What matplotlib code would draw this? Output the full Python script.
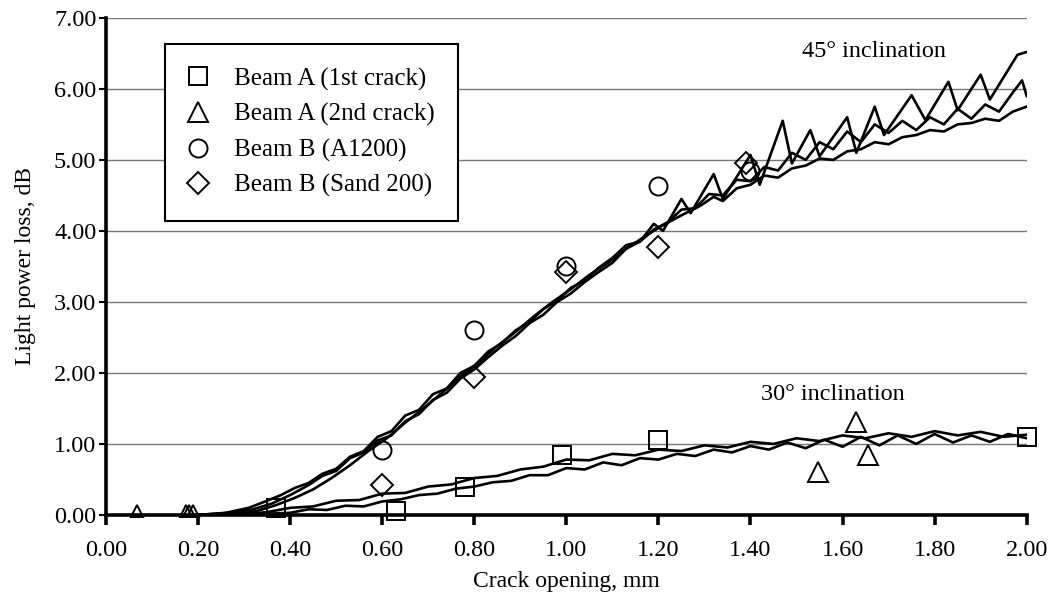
import matplotlib
matplotlib.use("Agg")
import matplotlib.pyplot as plt

plt.rcParams['font.family'] = ['Liberation Serif', 'DejaVu Serif']

# marker data
sq_x = [0.37, 0.63, 0.78, 0.99, 1.20, 2.00]
sq_y = [0.10, 0.05, 0.40, 0.85, 1.06, 1.10]
tri_x = [0.067, 0.173, 0.181, 0.189, 1.546, 1.630, 1.655]
tri_y = [0.05, 0.05, 0.05, 0.05, 0.61, 1.31, 0.85]
cir_x = [0.60, 0.80, 1.00, 1.20, 1.40]
cir_y = [0.92, 2.60, 3.50, 4.63, 4.85]
dia_x = [0.60, 0.80, 1.00, 1.20, 1.39]
dia_y = [0.42, 1.94, 3.42, 3.78, 4.95]

# 45 deg inclination curves
c45a_x = [0.20, 0.26, 0.31, 0.35, 0.38, 0.41, 0.44, 0.47, 0.50, 0.53, 0.56, 0.59, 0.62, 0.65,
          0.68, 0.71, 0.74, 0.77, 0.80, 0.83, 0.86, 0.89, 0.92, 0.95, 0.98, 1.01, 1.04, 1.07,
          1.10, 1.13, 1.16, 1.19, 1.21, 1.25, 1.27, 1.32, 1.34, 1.40, 1.42, 1.47, 1.49, 1.53,
          1.55, 1.61, 1.63, 1.67, 1.69, 1.75, 1.78, 1.83, 1.85, 1.90, 1.92, 1.98, 2.00]
c45a_y = [0.00, 0.03, 0.10, 0.20, 0.28, 0.38, 0.45, 0.58, 0.65, 0.82, 0.90, 1.10, 1.18, 1.40,
          1.48, 1.70, 1.78, 2.00, 2.10, 2.30, 2.42, 2.60, 2.72, 2.90, 3.02, 3.20, 3.30, 3.48,
          3.62, 3.80, 3.85, 4.10, 4.00, 4.45, 4.25, 4.80, 4.45, 5.07, 4.65, 5.55, 4.95, 5.42,
          5.05, 5.60, 5.10, 5.75, 5.35, 5.91, 5.56, 6.10, 5.70, 6.20, 5.85, 6.48, 6.52]
c45b_x = [0.20, 0.27, 0.32, 0.36, 0.40, 0.44, 0.47, 0.50, 0.53, 0.56, 0.59, 0.62, 0.65, 0.68,
          0.71, 0.74, 0.77, 0.80, 0.83, 0.86, 0.89, 0.92, 0.95, 0.98, 1.01, 1.04, 1.07, 1.10,
          1.13, 1.16, 1.19, 1.22, 1.25, 1.28, 1.31, 1.34, 1.37, 1.40, 1.43, 1.46, 1.49, 1.52,
          1.55, 1.58, 1.61, 1.64, 1.67, 1.70, 1.73, 1.76, 1.79, 1.82, 1.85, 1.88, 1.91, 1.94,
          1.97, 1.99, 2.00]
c45b_y = [0.00, 0.03, 0.08, 0.16, 0.28, 0.42, 0.55, 0.62, 0.80, 0.88, 1.05, 1.12, 1.32, 1.42,
          1.62, 1.72, 1.92, 2.05, 2.22, 2.38, 2.52, 2.70, 2.82, 3.00, 3.12, 3.28, 3.42, 3.55,
          3.75, 3.85, 4.02, 4.12, 4.30, 4.32, 4.52, 4.50, 4.72, 4.70, 4.90, 4.85, 5.10, 5.00,
          5.25, 5.15, 5.40, 5.25, 5.50, 5.38, 5.55, 5.42, 5.60, 5.50, 5.72, 5.58, 5.78, 5.68,
          5.95, 6.12, 5.90]
c45c_x = [0.20, 0.28, 0.33, 0.37, 0.41, 0.45, 0.49, 0.53, 0.57, 0.61, 0.65, 0.69, 0.73, 0.77,
          0.81, 0.85, 0.89, 0.93, 0.97, 1.01, 1.05, 1.09, 1.13, 1.17, 1.21, 1.25, 1.29, 1.32,
          1.34, 1.37, 1.40, 1.43, 1.46, 1.49, 1.52, 1.55, 1.58, 1.61, 1.64, 1.67, 1.70, 1.73,
          1.76, 1.79, 1.82, 1.85, 1.88, 1.91, 1.94, 1.97, 2.00]
c45c_y = [0.00, 0.02, 0.06, 0.14, 0.24, 0.36, 0.52, 0.70, 0.90, 1.08, 1.30, 1.50, 1.72, 1.95,
          2.15, 2.38, 2.58, 2.80, 3.00, 3.18, 3.38, 3.55, 3.75, 3.92, 4.08, 4.22, 4.35, 4.48,
          4.42, 4.60, 4.65, 4.78, 4.75, 4.88, 4.92, 5.02, 5.00, 5.12, 5.15, 5.25, 5.22, 5.32,
          5.35, 5.42, 5.40, 5.50, 5.52, 5.58, 5.55, 5.68, 5.75]

# 30 deg inclination curves
c30a_x = [0.28, 0.35, 0.40, 0.45, 0.50, 0.55, 0.60, 0.65, 0.70, 0.75, 0.80, 0.85, 0.90, 0.95,
          1.00, 1.05, 1.10, 1.15, 1.20, 1.25, 1.30, 1.35, 1.40, 1.45, 1.50, 1.55, 1.60, 1.65,
          1.70, 1.75, 1.80, 1.85, 1.90, 1.95, 2.00]
c30a_y = [0.00, 0.04, 0.10, 0.12, 0.20, 0.21, 0.30, 0.31, 0.40, 0.43, 0.52, 0.55, 0.64, 0.68,
          0.78, 0.77, 0.86, 0.84, 0.92, 0.90, 0.98, 0.95, 1.03, 1.00, 1.08, 1.04, 1.12, 1.08,
          1.15, 1.10, 1.18, 1.12, 1.17, 1.10, 1.13]
c30b_x = [0.30, 0.36, 0.40, 0.44, 0.48, 0.52, 0.56, 0.60, 0.64, 0.68, 0.72, 0.76, 0.80, 0.84,
          0.88, 0.92, 0.96, 1.00, 1.04, 1.08, 1.12, 1.16, 1.20, 1.24, 1.28, 1.32, 1.36, 1.40,
          1.44, 1.48, 1.52, 1.56, 1.60, 1.64, 1.68, 1.72, 1.76, 1.80, 1.84, 1.88, 1.92, 1.96,
          2.00]
c30b_y = [0.00, 0.02, 0.03, 0.08, 0.07, 0.13, 0.12, 0.19, 0.22, 0.28, 0.30, 0.37, 0.40, 0.46,
          0.48, 0.56, 0.56, 0.66, 0.64, 0.74, 0.70, 0.80, 0.78, 0.86, 0.83, 0.92, 0.88, 0.97,
          0.92, 1.02, 0.94, 1.06, 0.96, 1.10, 0.98, 1.12, 1.00, 1.14, 1.02, 1.12, 1.03, 1.14,
          1.08]

fig = plt.figure(figsize=(10.53, 5.96), dpi=100)
ax = fig.add_axes([0.1007, 0.136, 0.8743, 0.834])

for cx, cy in [(c45a_x, c45a_y), (c45b_x, c45b_y), (c45c_x, c45c_y),
               (c30a_x, c30a_y), (c30b_x, c30b_y)]:
    ax.plot(cx, cy, color='black', lw=1.9, zorder=3)

mk = dict(linestyle='none', markerfacecolor='none', markeredgecolor='black',
          markeredgewidth=1.4, clip_on=False, zorder=4)
ax.plot(sq_x, sq_y, marker='s', markersize=13, label='Beam A (1st crack)', **mk)
# the first four triangles are drawn smaller in the original
ax.plot(tri_x[:4], tri_y[:4], marker='^', markersize=8, **mk)
ax.plot(tri_x[4:], tri_y[4:], marker='^', markersize=14, label='Beam A (2nd crack)', **mk)
ax.plot(cir_x, cir_y, marker='o', markersize=13, label='Beam B (A1200)', **mk)
ax.plot(dia_x, dia_y, marker='D', markersize=11, label='Beam B (Sand 200)', **mk)

ax.set_xlim(0, 2.0)
ax.set_ylim(0, 7.0)
ax.set_xticks([i * 0.2 for i in range(11)])
ax.set_yticks(range(8))
ax.set_xticklabels([f'{i * 0.2:.2f}' for i in range(11)])
ax.set_yticklabels([f'{i:.2f}' for i in range(8)])
ax.yaxis.grid(True, color='#777777', lw=1.0)
ax.set_axisbelow(True)
for s in ['top', 'right']:
    ax.spines[s].set_visible(False)
for s in ['left', 'bottom']:
    ax.spines[s].set_linewidth(2.6)
ax.tick_params(axis='x', direction='out', length=7, width=2.6, labelsize=17.5, pad=11)
ax.tick_params(axis='y', direction='out', length=5, width=1.5, labelsize=17.5, pad=2)

ax.set_xlabel('Crack opening, mm', fontsize=17, labelpad=7)
ax.set_ylabel('Light power loss, dB', fontsize=17, labelpad=13)

ax.text(1.512, 6.52, '45° inclination', fontsize=17.5, va='center')
ax.text(1.423, 1.70, '30° inclination', fontsize=17.5, va='center')

leg = ax.legend(loc='upper left', bbox_to_anchor=(0.064, 0.948), borderaxespad=0,
                fontsize=18, frameon=True, fancybox=False, edgecolor='black',
                framealpha=1, handlelength=0.75, handletextpad=1.05, labelspacing=0.5,
                borderpad=0.95)
leg.get_frame().set_linewidth(1.5)

fig.savefig('out.png', dpi=100)
